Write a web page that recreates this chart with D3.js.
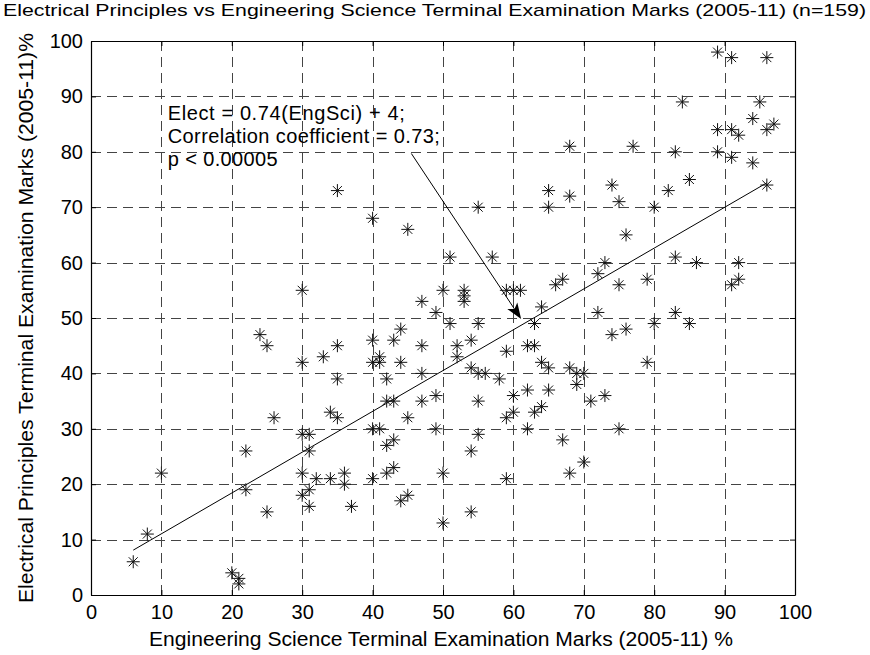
<!DOCTYPE html>
<html>
<head>
<meta charset="utf-8">
<script src="https://cdn.jsdelivr.net/npm/d3@7/dist/d3.min.js"></script>
<style>
  html, body { margin: 0; padding: 0; background: #fff; }
  svg { display: block; }
  text { font-family: "Liberation Sans", Arial, Helvetica, sans-serif; fill: #000; }
</style>
</head>
<body>
<svg id="chart" width="870" height="655"></svg>
<script>
// ---- data ----
const engSci = [6,8,10,20,21,21,22,22,24,25,25,26,30,33,34,30,31,31,30,32,34,30,31,31,
  35,35,40,41,40,41,43,44,44,47,47,42,42,43,47,49,45,35,40,41,42,43,49,36,36,40,37,42,43,44,45,50,50,54,52,52,54,55,56,58,59,62,63,64,65,55,60,62,65,60,59,63,64,62,55,54,67,59,54,
  74,76,79,68,69,70,69,71,73,75,70,68,
  30,
  35,40,45,55,65,65,51,57,50,53,53,53,47,49,51,55,59,60,61,64,63,66,67,
  89,91,96,84,95,94,89,91,92,96,97,68,77,83,89,91,94,96,85,82,74,68,75,80,76,73,72,83,86,92,91,92,75,79,72,83,80,85];
const elect = [6,11,22,4,3,2,26,19,47,45,15,32,42,43,33,29,29,26,22,21,21,18,19,16,
  45,39,46,43,42,42,46,42,48,45,40,39,35,35,35,36,32,32,30,30,27,28,30,22,20,21,16,22,23,17,18,22,13,46,45,43,41,40,40,39,44,45,45,42,41,35,36,37,37,33,32,33,34,30,29,26,28,21,15,
  47,48,42,41,40,40,38,35,36,30,24,22,
  55,
  73,68,66,70,73,70,61,61,55,55,54,53,53,51,49,49,55,55,55,52,49,56,57,
  98,97,97,89,89,86,84,84,83,84,85,81,81,80,80,79,78,74,75,73,74,72,71,70,65,60,58,61,60,60,56,57,56,57,51,51,49,49];
const fitX = [6, 96];
const fitY = [8.1, 74.4];
const arrowFrom = [45.5, 79.7];
const arrowTo = [61.1, 49.8];
const annotation = ["Elect = 0.74(EngSci) + 4;", "Correlation coefficient = 0.73;", "p < 0.00005"];
const annotationPos = [10.9, 85.7];
const xTicks = [0,10,20,30,40,50,60,70,80,90,100];
const yTicks = [0,10,20,30,40,50,60,70,80,90,100];
const titleText = "Electrical Principles vs Engineering Science Terminal Examination Marks (2005-11) (n=159)";
const xLabel = "Engineering Science Terminal Examination Marks (2005-11) %";
const yLabel = "Electrical Principles Terminal Examination Marks (2005-11)%";

// ---- layout ----
const L = 91, R = 795, T = 41, B = 595;
const svg = d3.select("#chart");
const x = d3.scaleLinear().domain([0, 100]).range([L, R]);
const y = d3.scaleLinear().domain([0, 100]).range([B, T]);

// grid
const grid = svg.append("g");
grid.selectAll("line.gx").data(xTicks.slice(1, -1)).join("line")
  .attr("x1", d => Math.round(x(d)) + 0.5).attr("x2", d => Math.round(x(d)) + 0.5)
  .attr("y1", T).attr("y2", B)
  .attr("stroke", "#444").attr("stroke-width", 1).attr("stroke-dasharray", "10,6");
grid.selectAll("line.gy").data(yTicks.slice(1, -1)).join("line")
  .attr("y1", d => Math.round(y(d)) + 0.5).attr("y2", d => Math.round(y(d)) + 0.5)
  .attr("x1", L).attr("x2", R)
  .attr("stroke", "#444").attr("stroke-width", 1).attr("stroke-dasharray", "10,6");

// axes (ticks inward, MATLAB style)
const fs = "20px";
const ax = svg.append("g").attr("transform", `translate(0,${B})`)
  .call(d3.axisBottom(x).tickValues(xTicks).tickSize(-5).tickSizeOuter(0).tickPadding(8));
const axT = svg.append("g").attr("transform", `translate(0,${T})`)
  .call(d3.axisTop(x).tickValues(xTicks).tickSize(-5).tickSizeOuter(0).tickFormat(""));
const ay = svg.append("g").attr("transform", `translate(${L},0)`)
  .call(d3.axisLeft(y).tickValues(yTicks).tickSize(-5).tickSizeOuter(0).tickPadding(8));
const ayR = svg.append("g").attr("transform", `translate(${R},0)`)
  .call(d3.axisRight(y).tickValues(yTicks).tickSize(-5).tickSizeOuter(0).tickFormat(""));
[ax, axT, ay, ayR].forEach(g => {
  g.selectAll("path.domain").attr("stroke", "#000").attr("stroke-width", 1.2);
  g.selectAll(".tick line").attr("stroke", "#000");
  g.selectAll("text").attr("font-size", fs)
    .attr("font-family", '"Liberation Sans", Arial, Helvetica, sans-serif').attr("fill", "#000");
});
ax.selectAll("text").attr("dy", "0.71em").attr("y", 10);

// regression line
svg.append("line")
  .attr("x1", x(fitX[0])).attr("y1", y(fitY[0]))
  .attr("x2", x(fitX[1])).attr("y2", y(fitY[1]))
  .attr("stroke", "#000").attr("stroke-width", 1);

// markers (asterisks)
const pts = engSci.map((v, i) => [v, elect[i]]);
const star = "M-6.5,0H6.5M0,-6.5V6.5M-4.5,-4.5L4.5,4.5M-4.5,4.5L4.5,-4.5";
svg.append("g").selectAll("path").data(pts).join("path")
  .attr("transform", d => `translate(${x(d[0])},${y(d[1])})`)
  .attr("d", star).attr("stroke", "#111").attr("stroke-width", 1).attr("fill", "none");

// arrow
const ax0 = x(arrowFrom[0]), ay0 = y(arrowFrom[1]), ax1 = x(arrowTo[0]), ay1 = y(arrowTo[1]);
const ang = Math.atan2(ay1 - ay0, ax1 - ax0);
const hl = 16, hw = 6, notch = 4;
function rot(px, py) {
  return [ax1 + px * Math.cos(ang) - py * Math.sin(ang), ay1 + px * Math.sin(ang) + py * Math.cos(ang)];
}
svg.append("line")
  .attr("x1", ax0).attr("y1", ay0)
  .attr("x2", rot(-hl + notch, 0)[0]).attr("y2", rot(-hl + notch, 0)[1])
  .attr("stroke", "#000").attr("stroke-width", 1);
svg.append("path")
  .attr("d", "M" + [rot(0, 0), rot(-hl, -hw), rot(-hl + notch, 0), rot(-hl, hw)].map(p => p.join(",")).join("L") + "Z")
  .attr("fill", "#000");

// annotation text
const lens = [237, 272, 110];
svg.append("g").selectAll("text").data(annotation).join("text")
  .attr("x", x(annotationPos[0]))
  .attr("y", (d, i) => y(annotationPos[1]) + i * 22.7)
  .attr("font-size", "20px")
  .attr("textLength", (d, i) => lens[i]).attr("lengthAdjust", "spacing")
  .text(d => d);

// title and labels
svg.append("text").attr("x", 3).attr("y", 16).attr("font-size", "17px")
  .attr("textLength", 863).attr("lengthAdjust", "spacingAndGlyphs").text(titleText);
svg.append("text").attr("x", 441).attr("y", 646).attr("text-anchor", "middle")
  .attr("font-size", "20px").attr("textLength", 584).attr("lengthAdjust", "spacingAndGlyphs").text(xLabel);
svg.append("text").attr("transform", "translate(33,318) rotate(-90)").attr("text-anchor", "middle")
  .attr("font-size", "20px").attr("textLength", 570).attr("lengthAdjust", "spacingAndGlyphs").text(yLabel);
</script>
</body>
</html>
